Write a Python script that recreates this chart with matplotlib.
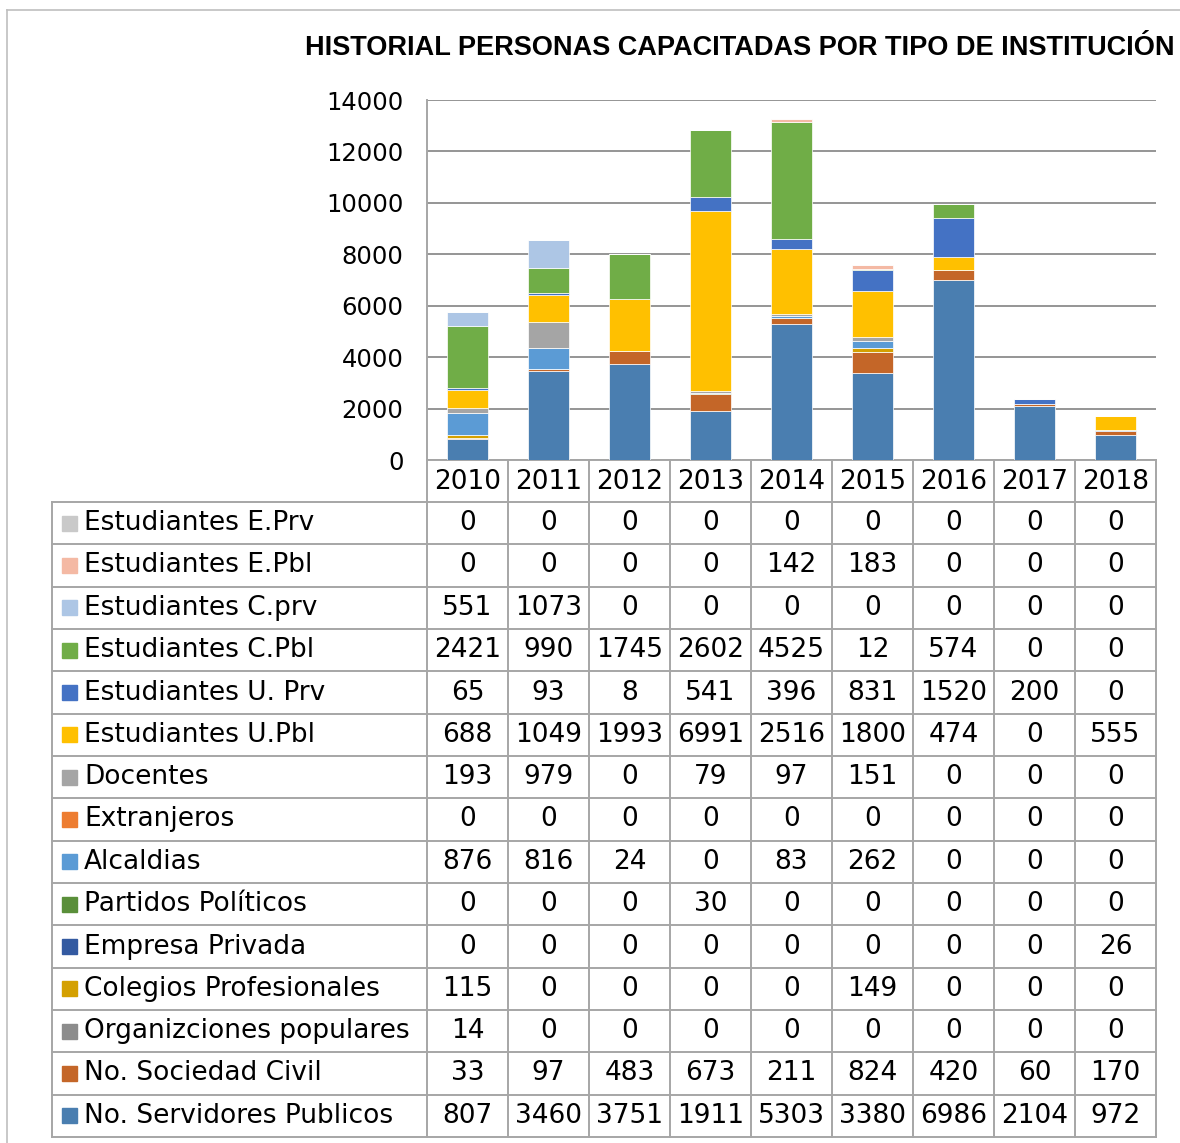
import numpy as np
import matplotlib.pyplot as plt
from matplotlib.lines import Line2D
from matplotlib.patches import Rectangle

plt.rcParams['font.family'] = 'DejaVu Sans'

years = ['2010', '2011', '2012', '2013', '2014', '2015', '2016', '2017', '2018']

# table order (top to bottom); bars are stacked in reverse order
labels = ['Estudiantes E.Prv', 'Estudiantes E.Pbl', 'Estudiantes C.prv',
          'Estudiantes C.Pbl', 'Estudiantes U. Prv', 'Estudiantes U.Pbl',
          'Docentes', 'Extranjeros', 'Alcaldias', 'Partidos Políticos',
          'Empresa Privada', 'Colegios Profesionales', 'Organizciones populares',
          'No. Sociedad Civil', 'No. Servidores Publicos']

est_e_prv = [0, 0, 0, 0, 0, 0, 0, 0, 0]
est_e_pbl = [0, 0, 0, 0, 142, 183, 0, 0, 0]
est_c_prv = [551, 1073, 0, 0, 0, 0, 0, 0, 0]
est_c_pbl = [2421, 990, 1745, 2602, 4525, 12, 574, 0, 0]
est_u_prv = [65, 93, 8, 541, 396, 831, 1520, 200, 0]
est_u_pbl = [688, 1049, 1993, 6991, 2516, 1800, 474, 0, 555]
docentes = [193, 979, 0, 79, 97, 151, 0, 0, 0]
extranjeros = [0, 0, 0, 0, 0, 0, 0, 0, 0]
alcaldias = [876, 816, 24, 0, 83, 262, 0, 0, 0]
partidos = [0, 0, 0, 30, 0, 0, 0, 0, 0]
empresa = [0, 0, 0, 0, 0, 0, 0, 0, 26]
colegios = [115, 0, 0, 0, 0, 149, 0, 0, 0]
org_pop = [14, 0, 0, 0, 0, 0, 0, 0, 0]
soc_civil = [33, 97, 483, 673, 211, 824, 420, 60, 170]
servidores = [807, 3460, 3751, 1911, 5303, 3380, 6986, 2104, 972]

series = [est_e_prv, est_e_pbl, est_c_prv, est_c_pbl, est_u_prv, est_u_pbl,
          docentes, extranjeros, alcaldias, partidos, empresa, colegios,
          org_pop, soc_civil, servidores]

colors = ['#C9C9C9', '#F4B9A4', '#ADC6E5', '#70AD47', '#4472C4', '#FFC000',
          '#A5A5A5', '#ED7D31', '#5B9BD5', '#5A8F3A', '#335AA1', '#D4A000',
          '#8C8C8C', '#C46628', '#4A7EB0']

W, H = 1180, 1143
fig = plt.figure(figsize=(W / 100, H / 100), dpi=100)

def fx(x):
    return x / W

def fy(y):
    return 1 - y / H

def hline(y, x0, x1, c='#a6a6a6', lw=1.4):
    fig.add_artist(Line2D([fx(x0), fx(x1)], [fy(y), fy(y)], color=c, lw=lw))

def vline(x, y0, y1, c='#a6a6a6', lw=1.4):
    fig.add_artist(Line2D([fx(x), fx(x)], [fy(y0), fy(y1)], color=c, lw=lw))

# plot area
L, R, T, B = 427, 1156, 100, 460
ax = fig.add_axes([fx(L), fy(B), fx(R) - fx(L), fy(T) - fy(B)])
x = np.arange(len(years))
bottom = np.zeros(len(years))
for vals, c in zip(series[::-1], colors[::-1]):
    ax.bar(x, vals, 0.5, bottom=bottom, color=c, edgecolor='white', linewidth=0.5, zorder=3)
    bottom += np.array(vals)

ax.set_xlim(-0.5, 8.5)
ax.set_ylim(0, 14000)
ax.set_yticks(np.arange(0, 14001, 2000))
ax.set_xticks([])
ax.tick_params(axis='y', length=0, pad=17, labelsize=17.5)
ax.yaxis.grid(True, color='#8c8c8c', lw=1.3, zorder=0)
for s in ['top', 'right']:
    ax.spines[s].set_visible(False)
ax.spines['left'].set_color('#a6a6a6')
ax.spines['left'].set_linewidth(1.4)
ax.spines['bottom'].set_color('#a6a6a6')
ax.spines['bottom'].set_linewidth(1.4)

# title
fig.text(fx(305), fy(48), 'HISTORIAL PERSONAS CAPACITADAS POR TIPO DE INSTITUCIÓN',
         fontsize=19.5, fontweight='bold', ha='left', va='center',
         family=['Liberation Sans', 'DejaVu Sans'])

# data table
col_w = (R - L) / len(years)
top_row = 502
bottom_row = 1137
row_h = (bottom_row - top_row) / len(labels)
fs = 19

for j, yr in enumerate(years):
    fig.text(fx(L + col_w * (j + 0.5)), fy((B + top_row) / 2 + 1), yr,
             fontsize=fs, ha='center', va='center')

for i in range(len(labels) + 1):
    hline(top_row + i * row_h, 52, R)
vline(52, top_row, bottom_row)
vline(L, B, bottom_row)
for j in range(1, len(years) + 1):
    vline(L + col_w * j, B, bottom_row)

for i, (lab, vals, c) in enumerate(zip(labels, series, colors)):
    yc = top_row + (i + 0.5) * row_h
    fig.add_artist(Rectangle((fx(62), fy(yc + 7.5)), fx(15), 15 / H, color=c))
    fig.text(fx(84), fy(yc), lab, fontsize=fs, ha='left', va='center')
    for j, v in enumerate(vals):
        fig.text(fx(L + col_w * (j + 0.5)), fy(yc), str(v),
                 fontsize=fs, ha='center', va='center')

# outer frame
hline(10, 7, W, c='#bfbfbf', lw=1.2)
vline(7, 10, H, c='#bfbfbf', lw=1.2)

fig.savefig('out.png', dpi=100)
